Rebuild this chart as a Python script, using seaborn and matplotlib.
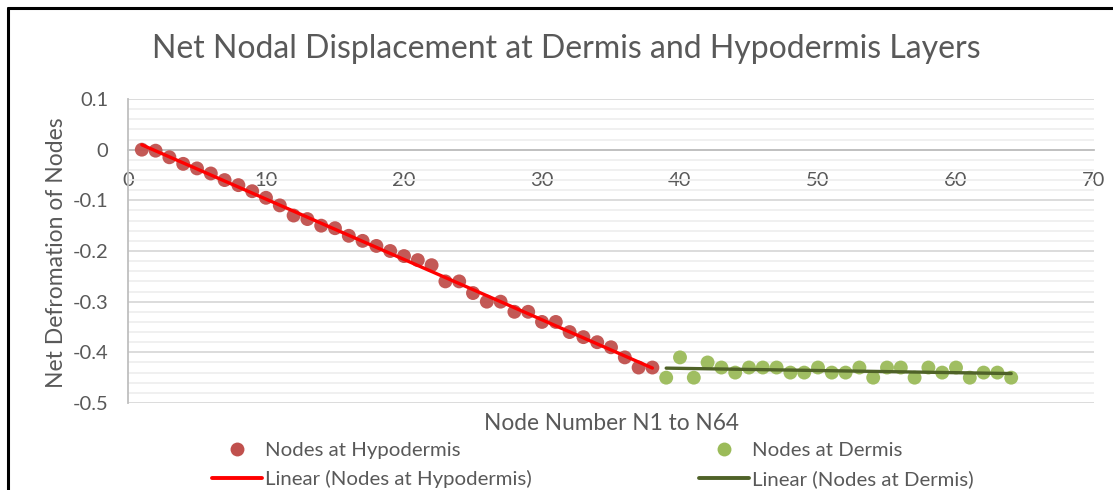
import numpy as np
import pandas as pd
import matplotlib
matplotlib.use("Agg")
import matplotlib.pyplot as plt
from matplotlib.lines import Line2D
from matplotlib.ticker import MultipleLocator, FuncFormatter
import seaborn as sns

# Node numbers and net deformation values
hypo_nodes = list(range(1, 39))
hypo_values = [0.0, -0.002, -0.015, -0.028, -0.037, -0.047, -0.06, -0.07, -0.082, -0.095,
               -0.11, -0.13, -0.137, -0.15, -0.155, -0.17, -0.18, -0.19, -0.2, -0.21,
               -0.218, -0.228, -0.26, -0.26, -0.283, -0.3, -0.3, -0.32, -0.32, -0.34,
               -0.34, -0.36, -0.37, -0.38, -0.39, -0.41, -0.43, -0.43]
derm_nodes = list(range(39, 65))
derm_values = [-0.45, -0.41, -0.45, -0.42, -0.43, -0.44, -0.43, -0.43, -0.43, -0.44,
               -0.44, -0.43, -0.44, -0.44, -0.43, -0.45, -0.43, -0.43, -0.45, -0.43,
               -0.44, -0.43, -0.45, -0.44, -0.44, -0.45]

x_ticks = [0, 10, 20, 30, 40, 50, 60, 70]
y_ticks = [0.1, 0, -0.1, -0.2, -0.3, -0.4, -0.5]

title = "Net Nodal Displacement at Dermis and Hypodermis Layers"
x_label = "Node Number N1 to N64"
y_label = "Net Defromation of Nodes"
hypo_name = "Nodes at Hypodermis"
derm_name = "Nodes at Dermis"

hypo = pd.DataFrame({"node": hypo_nodes, "value": hypo_values})
derm = pd.DataFrame({"node": derm_nodes, "value": derm_values})

sns.set_theme(style="white")
plt.rcParams["font.family"] = ["Lato", "DejaVu Sans"]
plt.rcParams["axes.unicode_minus"] = False

TEXT = "#595959"
AXIS = "#bfbfbf"
RED_PT = "#c0504d"
GREEN_PT = "#9bbb59"
RED_LN = "#ff0000"
GREEN_LN = "#4f6228"

fig = plt.figure(figsize=(11.13, 4.90), dpi=100)
ax = fig.add_axes([128 / 1113, 1 - 403 / 490, (1094 - 128) / 1113, (403 - 99) / 490])

# grid lines
ax.yaxis.set_major_locator(MultipleLocator(0.1))
ax.yaxis.set_minor_locator(MultipleLocator(0.02))
ax.grid(which="major", axis="y", color="#d9d9d9", linewidth=1.3, zorder=0)
ax.grid(which="minor", axis="y", color="#efefef", linewidth=1.3, zorder=0)
ax.grid(which="major", axis="x", visible=False)

sns.scatterplot(data=hypo, x="node", y="value", ax=ax, color=RED_PT, s=100,
                edgecolor="none", alpha=0.95, zorder=3, label=hypo_name, legend=False)
sns.scatterplot(data=derm, x="node", y="value", ax=ax, color=GREEN_PT, s=100,
                edgecolor="none", alpha=0.95, zorder=3, label=derm_name, legend=False)
sns.regplot(data=hypo, x="node", y="value", ax=ax, scatter=False, ci=None, truncate=True,
            line_kws=dict(color=RED_LN, linewidth=2.4, zorder=4))
sns.regplot(data=derm, x="node", y="value", ax=ax, scatter=False, ci=None, truncate=True,
            line_kws=dict(color=GREEN_LN, linewidth=2.4, zorder=4))

ax.set_xlim(0, 70)
ax.set_ylim(-0.5, 0.1)
ax.set_xticks(x_ticks)
ax.set_yticks(y_ticks)
ax.yaxis.set_major_formatter(FuncFormatter(lambda v, p: f"{v:g}" if abs(v) > 1e-9 else "0"))
ax.xaxis.set_major_formatter(FuncFormatter(lambda v, p: f"{v:g}"))

for s in ["top", "right"]:
    ax.spines[s].set_visible(False)
ax.spines["left"].set_color(AXIS)
ax.spines["left"].set_linewidth(1.3)
ax.spines["bottom"].set_color(AXIS)
ax.spines["bottom"].set_linewidth(1.3)
ax.spines["bottom"].set_position(("data", 0))
ax.spines["bottom"].set_zorder(2)

ax.tick_params(axis="both", which="major", direction="out", length=5, width=1.3,
               color=AXIS, labelcolor=TEXT, labelsize=14.5)
ax.tick_params(axis="y", which="minor", length=0)
ax.tick_params(axis="x", pad=11)
ax.tick_params(axis="y", pad=9)

ax.set_xlabel("")
ax.set_ylabel("")
fig.text(612 / 1113, 1 - 423 / 490, x_label, ha="center", va="center",
         fontsize=16.3, color=TEXT)
fig.text(57 / 1113, 1 - 253 / 490, y_label, ha="center", va="center",
         rotation=90, fontsize=16.5, color=TEXT)
fig.text(566 / 1113, 1 - 49 / 490, title, ha="center", va="center",
         fontsize=23, color=TEXT)

# legend, two columns
def handles(pt_color, ln_color, name):
    return [Line2D([], [], marker="o", linestyle="none", markersize=10,
                   markerfacecolor=pt_color, markeredgecolor="none", label=name),
            Line2D([], [], color=ln_color, linewidth=2.8,
                   label=f"Linear ({name})")]

leg_kw = dict(frameon=False, fontsize=14.7, labelcolor=TEXT, handlelength=2.45,
              handletextpad=0.15, labelspacing=0.52, borderpad=0, borderaxespad=0,
              loc="upper left")
leg1 = fig.legend(handles=handles(RED_PT, RED_LN, hypo_name),
                  bbox_to_anchor=(212 / 1113, 1 - 442 / 490), **leg_kw)
leg2 = fig.legend(handles=handles(GREEN_PT, GREEN_LN, derm_name),
                  bbox_to_anchor=(699 / 1113, 1 - 442 / 490), **leg_kw)

# outer frame edges
fig.add_artist(Line2D([8 / 1113, 1], [1 - 8 / 490, 1 - 8 / 490],
                      transform=fig.transFigure, color="black", linewidth=2.2))
fig.add_artist(Line2D([8 / 1113, 8 / 1113], [0, 1 - 8 / 490],
                      transform=fig.transFigure, color="black", linewidth=2.2))

fig.savefig("out.png", dpi=100, facecolor="white")
